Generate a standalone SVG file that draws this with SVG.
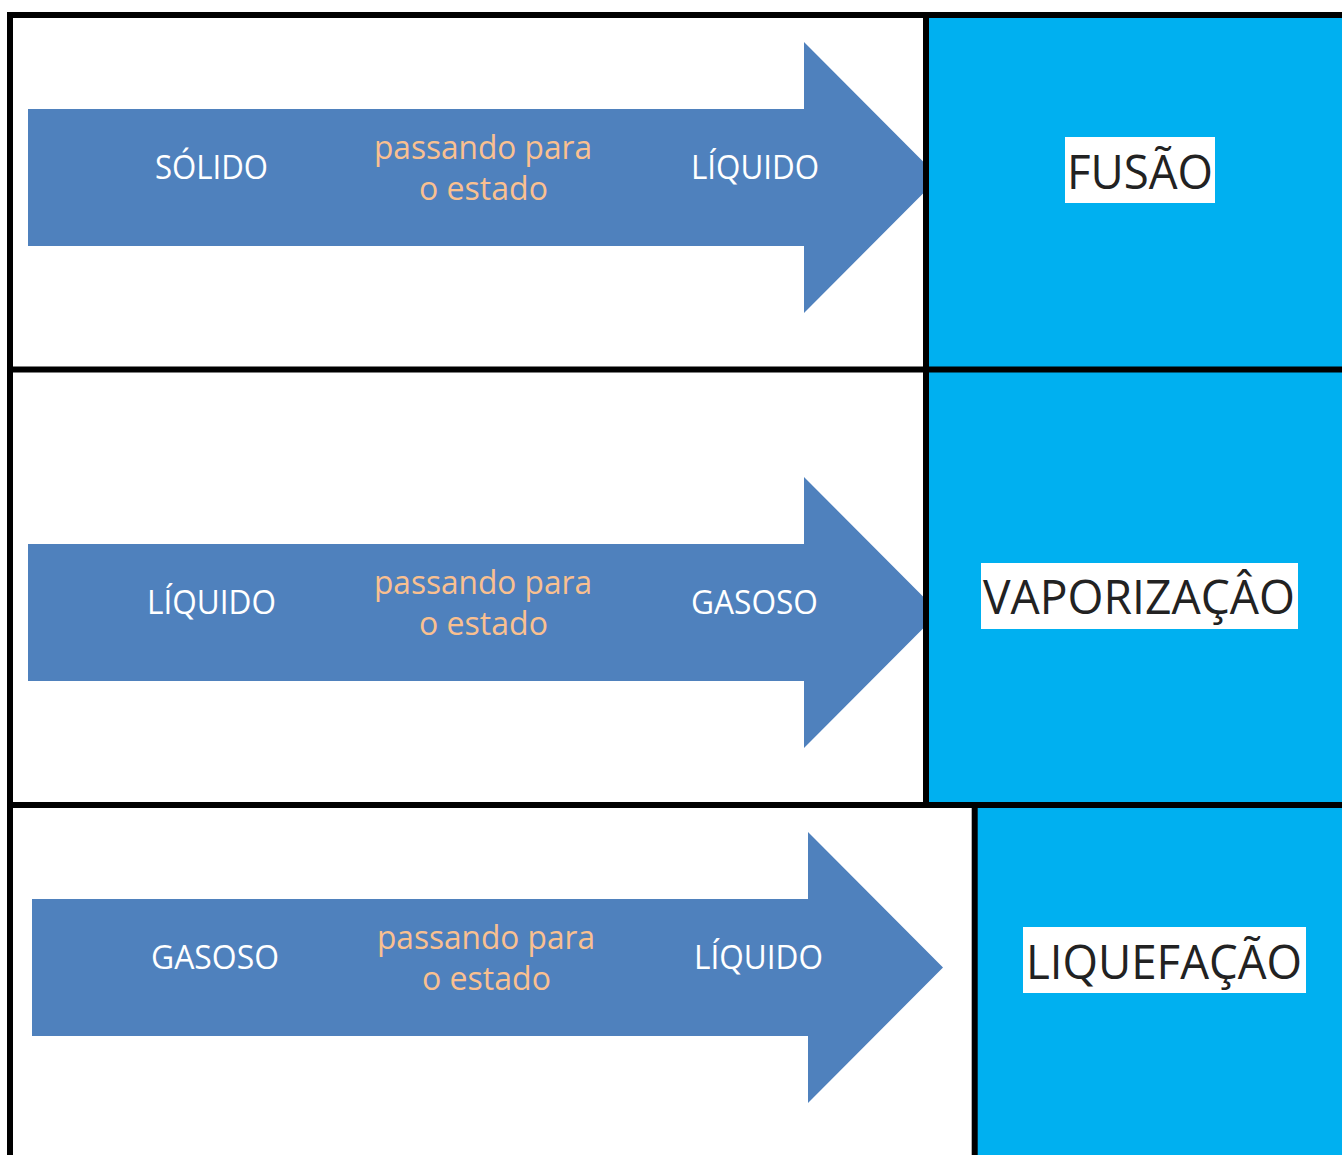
<svg xmlns="http://www.w3.org/2000/svg" width="1342" height="1155" viewBox="0 0 1342 1155">
  <style>
    .arrow { fill: #4F81BD; }
    .box { fill: #00B0F0; }
    .line { stroke: #000; stroke-width: 6; fill: none; }
    .state { font-family: "Open Sans", "Noto Sans", sans-serif; font-size: 33px; fill: #FFFFFF; text-anchor: middle; }
    .pass { font-family: "Open Sans", "Noto Sans", sans-serif; font-size: 33px; fill: #FAC090; text-anchor: middle; }
    .label-bg { fill: #FFFFFF; }
    .label { font-family: "Open Sans", "Noto Sans", sans-serif; font-size: 47px; fill: #222222; text-anchor: middle; }
  </style>

  <rect x="0" y="0" width="1342" height="1155" fill="#FFFFFF"/>

  <g id="arrow-fusao">
    <polygon class="arrow" points="28,109 804,109 804,42 939,177.5 804,313 804,246 28,246"/>
    <text class="state" x="211.5" y="179" textLength="113" lengthAdjust="spacingAndGlyphs">SÓLIDO</text>
    <text class="pass" x="483" y="159" textLength="218" lengthAdjust="spacingAndGlyphs">passando para</text>
    <text class="pass" x="483.5" y="200" textLength="129" lengthAdjust="spacingAndGlyphs">o estado</text>
    <text class="state" x="755" y="179" textLength="128" lengthAdjust="spacingAndGlyphs">LÍQUIDO</text>
  </g>

  <g id="arrow-vaporizacao">
    <polygon class="arrow" points="28,544 804,544 804,477 939,612.5 804,748 804,681 28,681"/>
    <text class="state" x="211.5" y="614" textLength="129" lengthAdjust="spacingAndGlyphs">LÍQUIDO</text>
    <text class="pass" x="483" y="594" textLength="218" lengthAdjust="spacingAndGlyphs">passando para</text>
    <text class="pass" x="483.5" y="635" textLength="129" lengthAdjust="spacingAndGlyphs">o estado</text>
    <text class="state" x="754.5" y="614" textLength="127" lengthAdjust="spacingAndGlyphs">GASOSO</text>
  </g>

  <g id="arrow-liquefacao">
    <polygon class="arrow" points="32,899 808,899 808,832 943,967.5 808,1103 808,1036 32,1036"/>
    <text class="state" x="215" y="969" textLength="128" lengthAdjust="spacingAndGlyphs">GASOSO</text>
    <text class="pass" x="486" y="949" textLength="218" lengthAdjust="spacingAndGlyphs">passando para</text>
    <text class="pass" x="486.5" y="990" textLength="129" lengthAdjust="spacingAndGlyphs">o estado</text>
    <text class="state" x="758.5" y="969" textLength="129" lengthAdjust="spacingAndGlyphs">LÍQUIDO</text>
  </g>

  <g id="box-fusao">
    <rect class="box" x="926" y="15" width="416" height="354"/>
    <rect class="label-bg" x="1065" y="137" width="150" height="66"/>
    <text class="label" x="1140" y="189" textLength="146" lengthAdjust="spacingAndGlyphs">FUSÃO</text>
  </g>

  <g id="box-vaporizacao">
    <rect class="box" x="926" y="369" width="416" height="436"/>
    <rect class="label-bg" x="981" y="563" width="317" height="66"/>
    <text class="label" x="1139" y="614" textLength="312" lengthAdjust="spacingAndGlyphs">VAPORIZAÇÂO</text>
  </g>

  <g id="box-liquefacao">
    <rect class="box" x="975" y="805" width="367" height="350"/>
    <rect class="label-bg" x="1023" y="927" width="283" height="66"/>
    <text class="label" x="1164" y="979" textLength="276" lengthAdjust="spacingAndGlyphs">LIQUEFAÇÃO</text>
  </g>

  <g id="grid-lines">
    <line class="line" x1="7" y1="15" x2="1342" y2="15"/>
    <line class="line" x1="10" y1="12" x2="10" y2="1155"/>
    <line class="line" x1="7" y1="369.5" x2="1342" y2="369.5"/>
    <line class="line" x1="7" y1="805" x2="1342" y2="805"/>
    <line class="line" x1="926" y1="12" x2="926" y2="805"/>
    <line class="line" x1="974.7" y1="805" x2="974.7" y2="1155"/>
  </g>
</svg>
